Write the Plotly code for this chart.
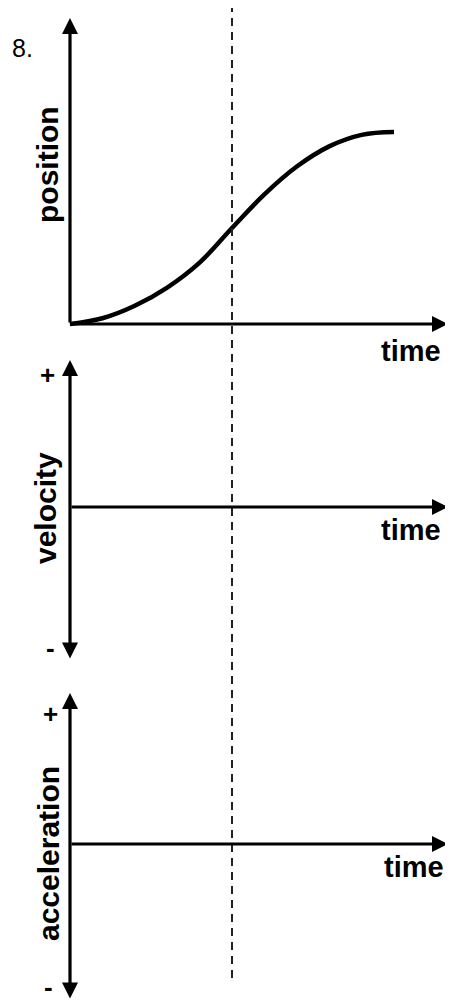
import plotly.graph_objects as go

# position-vs-time curve (time in arbitrary units, dashed line at t = 5)
time = [0, 1, 2, 3, 4, 5, 6, 7, 8, 9, 10]
position = [0, 0.3, 0.95, 1.9, 3.2, 5.0, 6.75, 8.2, 9.25, 9.85, 10.0]

panel_labels = ["position", "velocity", "acceleration"]
axis_label = "time"
question_no = "8."
t_mark = 5

# the page puts the plot 8px in from the top-left corner
OFF = 8
W, H = 453 - OFF, 1002 - OFF
FONT = "Arial, Liberation Sans, sans-serif"


def px(x):
    return (x - OFF) / W


def py(y):
    return 1 - (y - OFF) / H


fig = go.Figure()

fig.add_trace(go.Scatter(x=time, y=position, mode="lines",
                         line=dict(color="black", width=4.5, shape="spline",
                                   smoothing=1.1),
                         xaxis="x", yaxis="y", hoverinfo="skip"))

# x: pixel 70 -> t=0, 32.4 px per unit
xr = [(OFF - 70) / 32.4, (453 - 70) / 32.4]

fig.update_layout(
    width=W, height=H,
    margin=dict(l=0, r=0, t=0, b=0),
    paper_bgcolor="white", plot_bgcolor="white",
    showlegend=False,
    xaxis=dict(range=xr, visible=False, domain=[0, 1]),
    xaxis2=dict(range=xr, visible=False, domain=[0, 1], anchor="y2"),
    xaxis3=dict(range=xr, visible=False, domain=[0, 1], anchor="y3"),
    yaxis=dict(range=[(324 - 340) / 19.2, (324 - OFF) / 19.2], visible=False,
               domain=[py(340), 1]),
    yaxis2=dict(range=[(507 - 670) / 150, (507 - 340) / 150], visible=False,
                domain=[py(670), py(340)], anchor="x2"),
    yaxis3=dict(range=[(844 - 1002) / 151, (844 - 670) / 151], visible=False,
                domain=[0, py(670)], anchor="x3"),
)

t_tip = (448 - 70) / 32.4


def arrow(x, y, ax, ay, n, both=False):
    xr_ = "x" if n == 1 else "x%d" % n
    yr_ = "y" if n == 1 else "y%d" % n
    a = dict(x=x, y=y, ax=ax, ay=ay, xref=xr_, yref=yr_, axref=xr_, ayref=yr_,
             text="", showarrow=True, arrowhead=2, arrowsize=1,
             arrowwidth=3.2, arrowcolor="black")
    if both:
        a.update(arrowside="end+start", startarrowhead=2, startarrowsize=1)
    return a


anns = [
    arrow(0, (324 - 18) / 19.2, 0, 0, 1),
    arrow(t_tip, 0, -0.05, 0, 1),
    arrow(0, (507 - 360) / 150, 0, (507 - 660) / 150, 2, both=True),
    arrow(t_tip, 0, 0, 0, 2),
    arrow(0, (844 - 693) / 151, 0, (844 - 1000) / 151, 3, both=True),
    arrow(t_tip, 0, 0, 0, 3),
]


def label(text, x, y, size=29, angle=0, bold=True):
    return dict(text="<b>%s</b>" % text if bold else text,
                x=px(x), y=py(y), xref="paper", yref="paper",
                xanchor="center", yanchor="middle", showarrow=False,
                textangle=angle, font=dict(family=FONT, size=size, color="black"))


anns.append(label(question_no, 22, 48, size=25, bold=False))
anns.append(label(panel_labels[0], 48, 165, size=30, angle=-90))
anns.append(label(panel_labels[1], 46, 508, size=30, angle=-90))
anns.append(label(panel_labels[2], 48, 854, size=30, angle=-90))
anns.append(label(axis_label, 411, 351))
anns.append(label(axis_label, 411, 530))
anns.append(label(axis_label, 414, 867))
anns.append(label("+", 47, 375, size=26))
anns.append(label("-", 50, 648, size=26))
anns.append(label("+", 50, 714, size=26))
anns.append(label("-", 48, 987, size=26))

fig.update_layout(annotations=anns)

fig.add_shape(type="line", xref="x", yref="paper", x0=t_mark, x1=t_mark,
              y0=py(978), y1=1,
              line=dict(color="#222222", width=2, dash="8px,6px"))

fig.write_html("out.html")
